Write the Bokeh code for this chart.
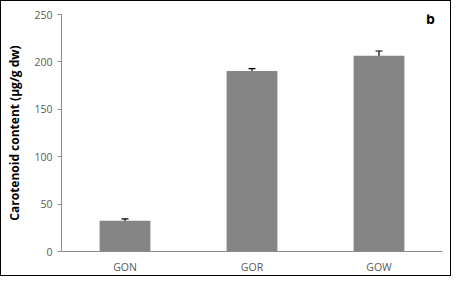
from bokeh.plotting import figure
from bokeh.models import ColumnDataSource, Whisker, Label, FixedTicker, TeeHead
from bokeh.embed import file_html
from bokeh.resources import INLINE

categories = ["GON", "GOR", "GOW"]
values = [32.5, 190.5, 206.5]
errors = [2.0, 2.5, 5.0]
y_ticks = [0, 50, 100, 150, 200, 250]

src = ColumnDataSource(dict(
    cat=categories, val=values,
    upper=[v + e for v, e in zip(values, errors)],
    lower=[v - e for v, e in zip(values, errors)],
))

p = figure(x_range=categories, y_range=(0, 250), width=451, height=276,
           output_backend="svg", toolbar_location=None,
           min_border_left=60, min_border_right=10, min_border_top=13, min_border_bottom=26)
p.styles = {"border": "1px solid black"}
p.outline_line_color = None
p.xgrid.grid_line_color = None
p.ygrid.grid_line_color = None
p.x_range.range_padding = 0

p.vbar(x="cat", top="val", width=0.4, source=src, fill_color="#858585", line_color=None)
w = Whisker(base="cat", upper="upper", lower="lower", source=src, line_color="black",
            line_width=1.2)
w.upper_head = TeeHead(size=7, line_color="black", line_width=1.2)
w.lower_head = TeeHead(size=7, line_color="black", line_width=1.2)
p.add_layout(w)

p.yaxis.ticker = FixedTicker(ticks=y_ticks)
p.yaxis.minor_tick_line_color = None
p.yaxis.major_tick_out = 4
p.yaxis.major_tick_in = 0
p.yaxis.axis_line_color = "#8c8c8c"
p.yaxis.major_tick_line_color = "#8c8c8c"
p.yaxis.major_label_text_color = "#595959"
p.yaxis.major_label_text_font = "Open Sans"
p.yaxis.major_label_text_font_size = "10.5px"
p.yaxis.axis_label = "Carotenoid content (µg/g dw)"
p.yaxis.axis_label_text_font = "Open Sans"
p.yaxis.axis_label_text_font_style = "bold"
p.yaxis.axis_label_text_font_size = "12px"
p.yaxis.axis_label_text_color = "black"
p.yaxis.axis_label_standoff = 8

p.xaxis.axis_line_color = "#8c8c8c"
p.xaxis.major_tick_line_color = None
p.xaxis.minor_tick_line_color = None
p.xaxis.major_tick_out = 0
p.xaxis.major_tick_in = 0
p.xaxis.major_label_text_color = "#595959"
p.xaxis.major_label_text_font = "Open Sans"
p.xaxis.major_label_text_font_size = "10.5px"
p.xaxis.major_label_standoff = 8

p.add_layout(Label(x=2.87, y=236, text="b",
                   text_font="Open Sans", text_font_style="bold", text_font_size="14px",
                   text_color="black"))

open("out.html", "w").write(file_html(p, INLINE))
